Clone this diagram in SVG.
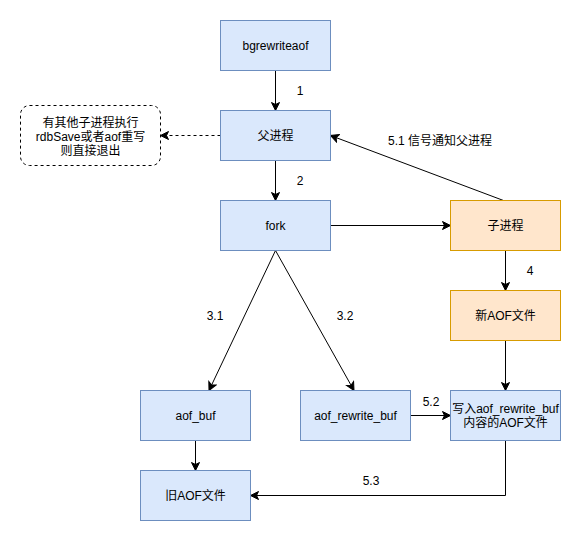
<svg xmlns="http://www.w3.org/2000/svg" width="581" height="541" viewBox="0 0 581 541">
<style>
text{font-family:"Liberation Sans","Noto Sans CJK SC",sans-serif;font-size:12px;fill:#000;text-anchor:middle}
.b{fill:#dae8fc;stroke:#6c8ebf;stroke-width:1}
.o{fill:#ffe6cc;stroke:#d79b00;stroke-width:1}
.c{fill:none;stroke:#000;stroke-width:1}
.d{stroke-dasharray:3,3}
</style>
<defs>
<marker id="a" markerUnits="userSpaceOnUse" markerWidth="10" markerHeight="10" viewBox="0 0 10 10" refX="9" refY="5" orient="auto">
<path d="M1,1 L9,5 L1,9 L3,5 Z" fill="#000" stroke="#000" stroke-width="1"/>
</marker>
</defs>
<rect width="581" height="541" fill="#fff"/>
<g id="connectors">
<path class="c" d="M275.5,70.5 V110.5" marker-end="url(#a)"/>
<path class="c d" d="M220.5,135.5 H160.5" marker-end="url(#a)"/>
<path class="c" d="M275.5,160.5 V200.5" marker-end="url(#a)"/>
<path class="c" d="M330.5,225.5 H450.5" marker-end="url(#a)"/>
<path class="c" d="M503.5,200.5 L330.5,135.5" marker-end="url(#a)"/>
<path class="c" d="M505.5,250.5 V290.5" marker-end="url(#a)"/>
<path class="c" d="M275.5,250.5 L209,390.5" marker-end="url(#a)"/>
<path class="c" d="M275.5,250.5 L354,390.5" marker-end="url(#a)"/>
<path class="c" d="M505.5,340.5 V390.5" marker-end="url(#a)"/>
<path class="c" d="M410.5,415.5 H450.5" marker-end="url(#a)"/>
<path class="c" d="M195.5,440.5 V470.5" marker-end="url(#a)"/>
<path class="c" d="M505.5,440.5 V495.5 H250.5" marker-end="url(#a)"/>
<text x="300" y="95">1</text>
<text x="300" y="185">2</text>
<text x="440" y="145">5.1 信号通知父进程</text>
<text x="530" y="275">4</text>
<text x="215" y="320">3.1</text>
<text x="345" y="320">3.2</text>
<text x="431" y="406">5.2</text>
<text x="371" y="485">5.3</text>
</g>
<g id="bgrewriteaof"><rect class="b" x="220.5" y="20.5" width="110" height="50"/><text x="275.5" y="50">bgrewriteaof</text></g>
<g id="parent"><rect class="b" x="220.5" y="110.5" width="110" height="50"/><text x="275.5" y="140">父进程</text></g>
<g id="note"><rect class="c d" x="20.5" y="105.5" width="140" height="60" rx="9"/><text x="90.5" y="127">有其他子进程执行</text><text x="90.5" y="141">rdbSave或者aof重写</text><text x="90.5" y="155">则直接退出</text></g>
<g id="fork"><rect class="b" x="220.5" y="200.5" width="110" height="50"/><text x="275.5" y="230">fork</text></g>
<g id="child"><rect class="o" x="450.5" y="200.5" width="110" height="50"/><text x="505.5" y="230">子进程</text></g>
<g id="newaof"><rect class="o" x="450.5" y="290.5" width="110" height="50"/><text x="505.5" y="320">新AOF文件</text></g>
<g id="aof_buf"><rect class="b" x="140.5" y="390.5" width="110" height="50"/><text x="195.5" y="420">aof_buf</text></g>
<g id="aof_rewrite_buf"><rect class="b" x="300.5" y="390.5" width="110" height="50"/><text x="355.5" y="420">aof_rewrite_buf</text></g>
<g id="write"><rect class="b" x="450.5" y="390.5" width="110" height="50"/><text x="505.5" y="413">写入aof_rewrite_buf</text><text x="505.5" y="427">内容的AOF文件</text></g>
<g id="oldaof"><rect class="b" x="140.5" y="470.5" width="110" height="50"/><text x="195.5" y="500">旧AOF文件</text></g>
</svg>
